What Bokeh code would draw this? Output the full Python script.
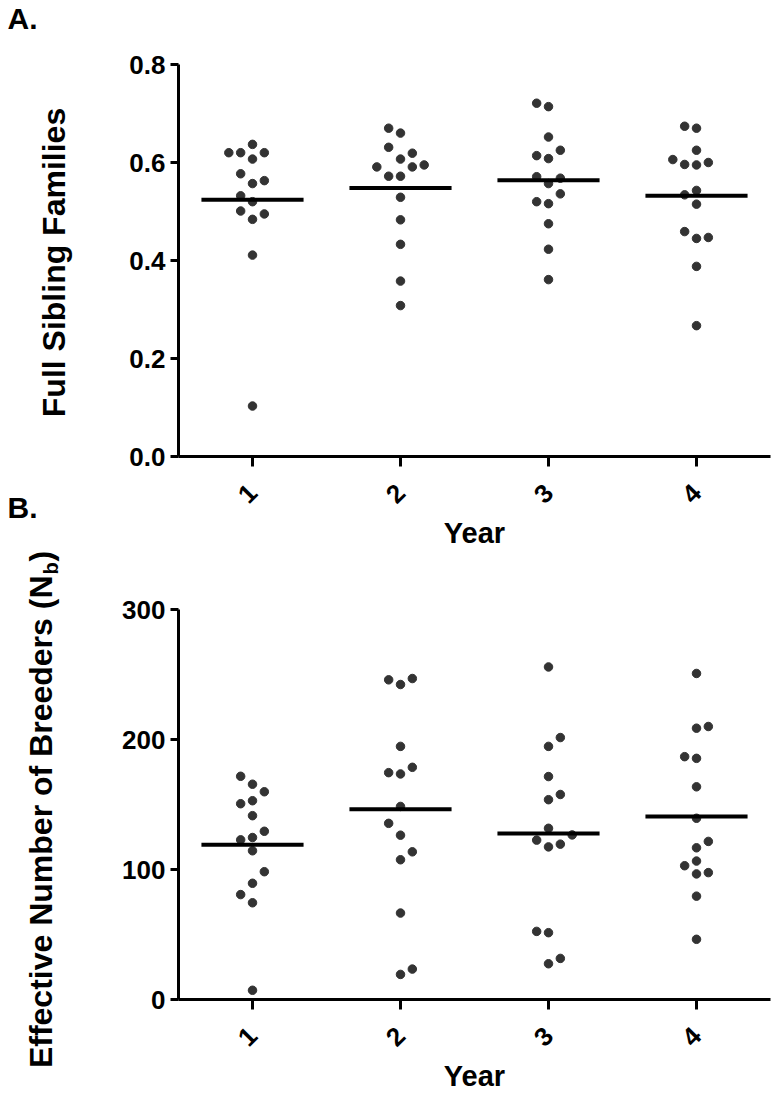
import math
from bokeh.plotting import figure
from bokeh.models import Range1d, FixedTicker, ColumnDataSource
from bokeh.layouts import column, row
from bokeh.embed import file_html
from bokeh.resources import INLINE
from bokeh.core.properties import value

# ---------------- data ----------------
years = [1, 2, 3, 4]
year_labels = ["1", "2", "3", "4"]

# Panel A: proportion of full sibling families (per year), with beeswarm column index
fs_y1 = [0.637, 0.620, 0.620, 0.620, 0.607, 0.577, 0.563, 0.557, 0.532, 0.520, 0.501, 0.495, 0.484, 0.411, 0.103]
fs_c1 = [0, -2, -1, 1, 0, -1, 1, 0, -1, 0, -1, 1, 0, 0, 0]
fs_y2 = [0.670, 0.660, 0.631, 0.619, 0.607, 0.591, 0.591, 0.595, 0.572, 0.572, 0.529, 0.483, 0.433, 0.358, 0.308]
fs_c2 = [-1, 0, -1, 1, 0, -2, 1, 2, -1, 0, 0, 0, 0, 0, 0]
fs_y3 = [0.721, 0.714, 0.652, 0.625, 0.614, 0.608, 0.571, 0.568, 0.557, 0.536, 0.520, 0.516, 0.475, 0.423, 0.361]
fs_c3 = [-1, 0, 0, 1, -1, 0, -1, 1, 0, 1, -1, 0, 0, 0, 0]
fs_y4 = [0.674, 0.670, 0.625, 0.606, 0.596, 0.595, 0.600, 0.543, 0.534, 0.515, 0.459, 0.445, 0.447, 0.388, 0.267]
fs_c4 = [-1, 0, 0, -2, -1, 0, 1, 0, -1, 0, -1, 0, 1, 0, 0]
fs_mean = [0.524, 0.548, 0.564, 0.532]

# Panel B: effective number of breeders (Nb)
nb_y1 = [171.7, 165.6, 159.8, 150.6, 152.9, 141.4, 129.4, 122.8, 124.6, 114.4, 98.3, 89.4, 80.7, 74.4, 7.1]
nb_c1 = [-1, 0, 1, -1, 0, 0, 1, -1, 0, 0, 1, 0, -1, 0, 0]
nb_y2 = [245.9, 242.3, 246.9, 194.7, 174.5, 173.5, 178.6, 148.5, 135.5, 126.4, 107.5, 113.6, 66.5, 19.3, 23.4]
nb_c2 = [-1, 0, 1, 0, -1, 0, 1, 0, -1, 0, 0, 1, 0, 0, 1]
nb_y3 = [255.8, 201.5, 194.7, 171.5, 157.7, 153.7, 131.7, 122.6, 117.4, 119.5, 126.6, 52.4, 51.4, 27.5, 31.6]
nb_c3 = [0, 1, 0, 0, 1, 0, 0, -1, 0, 1, 2, -1, 0, 0, 1]
nb_y4 = [250.8, 208.7, 210.0, 186.8, 185.5, 163.6, 139.4, 121.6, 116.7, 102.9, 106.5, 96.6, 97.6, 79.5, 46.3]
nb_c4 = [0, 0, 1, -1, 0, 0, 0, 1, 0, -1, 0, 0, 1, 0, 0]
nb_mean = [119.0, 146.3, 127.7, 140.7]

fs_ticks = [0.0, 0.2, 0.4, 0.6, 0.8]
nb_ticks = [0, 100, 200, 300]

# ---------------- styling ----------------
FONT = "Liberation Sans"
DOT = "#333333"
DODGE = 0.08      # horizontal step between swarm columns (data units)
HALF = 0.345      # half-length of mean bar (data units)
TICK_FS = "26px"
XLABEL_FS = "29px"
YLABEL_FS = "32px"
GUTTER_W = 100
HA, HB = 552, 543
TOTAL_H = HA + HB


def make_panel(series, cols, means, ticks, yr, height, top, bottom, fmt):
    p = figure(width=675, height=height, output_backend="svg", toolbar_location=None,
               x_range=Range1d(0.5, 4.5), y_range=Range1d(*yr),
               min_border_left=78, min_border_right=5,
               min_border_top=top, min_border_bottom=bottom)
    p.outline_line_color = None
    p.background_fill_color = "white"
    p.border_fill_color = "white"
    p.xgrid.grid_line_color = None
    p.ygrid.grid_line_color = None

    xs, ys = [], []
    for yrv, vals, cs in zip(years, series, cols):
        for v, c in zip(vals, cs):
            xs.append(yrv + c * DODGE)
            ys.append(v)
    p.scatter(x=xs, y=ys, size=8.5, color=DOT, line_color=DOT)

    src = ColumnDataSource(dict(x0=[y - HALF for y in years], x1=[y + HALF for y in years], m=means))
    p.segment(x0="x0", y0="m", x1="x1", y1="m", source=src, line_color="black", line_width=4)

    for ax in (p.xaxis[0], p.yaxis[0]):
        ax.axis_line_width = 3
        ax.axis_line_color = "black"
        ax.major_tick_line_width = 3
        ax.major_tick_line_color = "black"
        ax.major_tick_in = 0
        ax.minor_tick_line_color = None
        ax.major_label_text_font = FONT
        ax.major_label_text_font_style = "bold"
        ax.major_label_text_font_size = TICK_FS
        ax.major_label_text_color = "black"
        ax.axis_label_text_font = FONT
        ax.axis_label_text_font_style = "bold"
        ax.axis_label_text_font_size = XLABEL_FS
        ax.axis_label_text_color = "black"

    p.xaxis.ticker = FixedTicker(ticks=years)
    p.xaxis.major_label_overrides = {y: l for y, l in zip(years, year_labels)}
    p.xaxis.major_label_orientation = math.pi / 4
    p.xaxis.major_tick_out = 10
    p.xaxis.major_label_standoff = 22
    p.xaxis.axis_label = "Year"
    p.xaxis.axis_label_standoff = 3

    p.yaxis.ticker = FixedTicker(ticks=ticks)
    p.yaxis.major_label_overrides = {t: fmt(t) for t in ticks}
    p.yaxis.major_tick_out = 8
    p.yaxis.major_label_standoff = 5
    return p


pA = make_panel([fs_y1, fs_y2, fs_y3, fs_y4], [fs_c1, fs_c2, fs_c3, fs_c4], fs_mean,
                fs_ticks, (0.0, 0.8), HA, 64, 96, lambda t: f"{t:.1f}")
pB = make_panel([nb_y1, nb_y2, nb_y3, nb_y4], [nb_c1, nb_c2, nb_c3, nb_c4], nb_mean,
                nb_ticks, (0, 300), HB, 57, 94, lambda t: f"{int(t)}")

# ---------------- left gutter: panel letters and y-axis titles ----------------
g = figure(width=GUTTER_W, height=TOTAL_H, output_backend="svg", toolbar_location=None,
           x_range=Range1d(0, GUTTER_W), y_range=Range1d(0, TOTAL_H),
           x_axis_type=None, y_axis_type=None, min_border=0)
g.outline_line_color = None
g.background_fill_color = "white"
g.border_fill_color = "white"

def gy(page_y):
    return TOTAL_H - page_y

# panel letters
g.text(x=[7, 7], y=[gy(1), gy(490)], text=["A.", "B."],
       text_font=value(FONT), text_font_style="bold", text_font_size=value("30px"),
       text_baseline="top", text_align="left", text_color="black")

# panel A y title
g.text(x=[53], y=[gy(262)], text=["Full Sibling Families"], angle=math.pi / 2,
       text_font=value(FONT), text_font_style="bold", text_font_size=value(YLABEL_FS),
       text_baseline="middle", text_align="center", text_color="black")

# panel B y title with subscript
NB_MID_X = 40
NB_END = 575   # page y where "(N" ends
g.text(x=[NB_MID_X], y=[gy(NB_END)], text=["Effective Number of Breeders (N"], angle=math.pi / 2,
       text_font=value(FONT), text_font_style="bold", text_font_size=value(YLABEL_FS),
       text_baseline="middle", text_align="right", text_color="black")
g.text(x=[NB_MID_X + 10], y=[gy(NB_END - 1)], text=["b"], angle=math.pi / 2,
       text_font=value(FONT), text_font_style="bold", text_font_size=value("20px"),
       text_baseline="middle", text_align="left", text_color="black")
g.text(x=[NB_MID_X], y=[gy(NB_END - 14)], text=[")"], angle=math.pi / 2,
       text_font=value(FONT), text_font_style="bold", text_font_size=value(YLABEL_FS),
       text_baseline="middle", text_align="left", text_color="black")

layout = row(g, column(pA, pB))
open("out.html", "w").write(file_html(layout, INLINE))
